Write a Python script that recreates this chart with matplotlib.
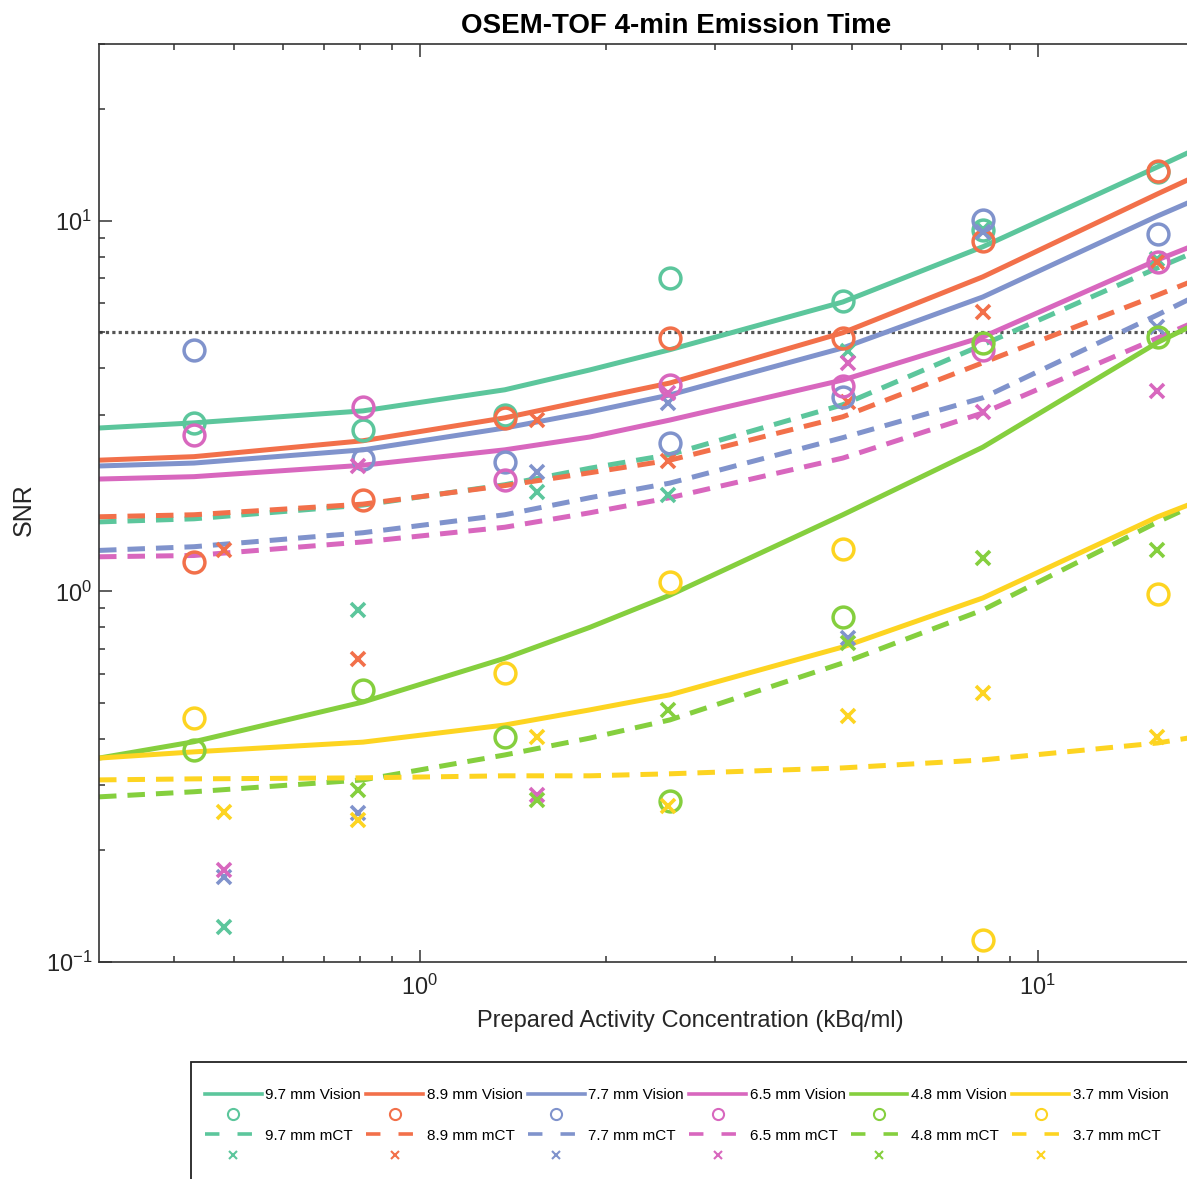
import numpy as np
import matplotlib
matplotlib.use('Agg')
import matplotlib.pyplot as plt
from matplotlib.lines import Line2D
from matplotlib.patches import Rectangle
from matplotlib.ticker import NullFormatter

plt.rcParams['font.family'] = ['Liberation Sans', 'DejaVu Sans']
plt.rcParams['mathtext.default'] = 'regular'
plt.rcParams['axes.unicode_minus'] = False

# lesion sizes and colours
sizes = ['9.7', '8.9', '7.7', '6.5', '4.8', '3.7']
colors = ['#5cc69c', '#f2704a', '#8093cc', '#d867be', '#85cf3e', '#fdd421']

# measured points (kBq/ml)
conc_vision = [0.431, 0.809, 1.372, 2.538, 4.836, 8.147, 15.64]
conc_mct = [0.482, 0.794, 1.546, 2.519, 4.927, 8.147, 15.58]

snr_vision_97 = [2.85, 2.73, 2.99, 7.02, 6.08, 9.46, 13.56]
snr_vision_89 = [1.20, 1.77, 2.94, 4.83, 4.83, 8.83, 13.65]
snr_vision_77 = [4.49, 2.28, 2.24, 2.52, 3.35, 10.06, 9.22]
snr_vision_65 = [2.65, 3.15, 2.00, 3.61, 3.59, 4.49, 7.75]
snr_vision_48 = [0.373, 0.542, 0.405, 0.272, 0.853, 4.69, 4.86]
snr_vision_37 = [0.456, np.nan, 0.603, 1.06, 1.30, 0.115, 0.985]

snr_mct_97 = [0.124, 0.891, 1.86, 1.82, 4.46, 9.5, 7.9]
snr_mct_89 = [1.29, 0.657, 2.90, 2.25, 3.25, 5.68, 7.75]
snr_mct_77 = [0.170, 0.252, 2.10, 3.23, 0.749, 9.34, 5.18]
snr_mct_65 = [0.177, 2.18, 0.282, 3.43, 4.14, 3.05, 3.48]
snr_mct_48 = [np.nan, 0.291, 0.274, 0.479, 0.726, 1.23, 1.29]
snr_mct_37 = [0.254, 0.242, 0.405, 0.264, 0.461, 0.532, 0.405]

fit_conc = [0.3024, 0.4308, 0.8088, 1.372, 1.884, 2.538, 4.836, 8.147, 15.64, 17.5]

fit_vision_97 = [2.76, 2.85, 3.07, 3.50, 3.96, 4.49, 6.04, 8.51, 13.99, 15.26]
fit_vision_89 = [2.26, 2.31, 2.55, 2.94, 3.29, 3.65, 4.99, 7.06, 11.83, 12.90]
fit_vision_77 = [2.18, 2.22, 2.41, 2.76, 3.05, 3.39, 4.54, 6.23, 10.31, 11.18]
fit_vision_65 = [2.01, 2.04, 2.19, 2.41, 2.61, 2.90, 3.72, 4.86, 7.85, 8.46]
fit_vision_48 = [0.355, 0.393, 0.503, 0.660, 0.800, 0.977, 1.61, 2.45, 4.70, 5.15]
fit_vision_37 = [0.355, 0.369, 0.392, 0.436, 0.479, 0.526, 0.708, 0.960, 1.59, 1.71]

fit_mct_97 = [1.54, 1.57, 1.71, 1.94, 2.15, 2.34, 3.19, 4.63, 7.47, 8.09]
fit_mct_89 = [1.59, 1.61, 1.72, 1.93, 2.09, 2.26, 2.96, 4.14, 6.31, 6.80]
fit_mct_77 = [1.29, 1.32, 1.44, 1.61, 1.79, 1.96, 2.60, 3.33, 5.58, 6.12]
fit_mct_65 = [1.24, 1.25, 1.36, 1.49, 1.63, 1.79, 2.29, 3.03, 4.83, 5.24]
fit_mct_48 = [0.279, 0.288, 0.310, 0.362, 0.402, 0.450, 0.641, 0.891, 1.54, 1.68]
fit_mct_37 = [0.310, 0.312, 0.314, 0.318, 0.318, 0.322, 0.334, 0.351, 0.390, 0.402]

snr_threshold = 5

snr_vision = [snr_vision_97, snr_vision_89, snr_vision_77, snr_vision_65, snr_vision_48, snr_vision_37]
snr_mct = [snr_mct_97, snr_mct_89, snr_mct_77, snr_mct_65, snr_mct_48, snr_mct_37]
fit_vision = [fit_vision_97, fit_vision_89, fit_vision_77, fit_vision_65, fit_vision_48, fit_vision_37]
fit_mct = [fit_mct_97, fit_mct_89, fit_mct_77, fit_mct_65, fit_mct_48, fit_mct_37]

W, H = 1187, 1179
fig = plt.figure(figsize=(W / 100, H / 100), dpi=100)
# axes run past the right edge of the picture, like the cropped original
ax = fig.add_axes([99 / W, 1 - 962 / H, (1253 - 99) / W, (962 - 44) / H])

ax.axhline(snr_threshold, color='#555555', lw=2.3, ls=(0, (1, 1)), zorder=1)

for i in range(6):
    c = colors[i]
    ax.plot(fit_conc, fit_vision[i], color=c, lw=3.6, solid_capstyle='butt',
            solid_joinstyle='round', zorder=2)
    ax.plot(fit_conc, fit_mct[i], color=c, lw=3.6, dashes=(3.5, 2.2), zorder=2)

for i in range(6):
    c = colors[i]
    ax.plot(conc_vision, snr_vision[i], ls='none', marker='o', ms=15, mfc='none',
            mec=c, mew=2.5, zorder=3)
    ax.plot(conc_mct, snr_mct[i], ls='none', marker='x', ms=10, mec=c, mew=2.6, zorder=3)

ax.set_xscale('log')
ax.set_yscale('log')
ax.set_xlim(0.3024, 22.3)
ax.set_ylim(0.1, 30)
ax.xaxis.set_minor_formatter(NullFormatter())
ax.yaxis.set_minor_formatter(NullFormatter())

ax.tick_params(which='both', direction='in', top=True, right=True, colors='#333333',
               labelcolor='#262626', width=1.1)
ax.tick_params(which='major', length=9, labelsize=17)
ax.tick_params(which='minor', length=4.5)
ax.tick_params(axis='x', which='major', pad=9)
ax.tick_params(axis='y', which='major', pad=5)
for s in ax.spines.values():
    s.set_color('#333333')
    s.set_linewidth(1.2)

ax.set_title('OSEM-TOF 4-min Emission Time', fontsize=20, fontweight='bold', pad=8)
ax.set_xlabel('Prepared Activity Concentration (kBq/ml)', fontsize=17, color='#262626')
ax.set_ylabel('SNR', fontsize=18, color='#262626')
ax.xaxis.set_label_coords((690 - 99) / 1154, -(1010 - 962) / 918)
ax.yaxis.set_label_coords(-(99 - 36) / 1154, (962 - 510) / 918)

# legend: one column per size -> line, circle, dashed, cross
handles = []
labels = []
for i in range(6):
    c = colors[i]
    handles.append(Line2D([], [], color=c, lw=2.6))
    labels.append(sizes[i] + ' mm Vision')
    handles.append(Line2D([], [], ls='none', marker='o', ms=8, mfc='none', mec=c, mew=1.5))
    labels.append('')
    handles.append(Line2D([], [], color=c, lw=2.6, dashes=(4, 5)))
    labels.append(sizes[i] + ' mm mCT')
    handles.append(Line2D([], [], ls='none', marker='x', ms=6, mec=c, mew=1.5))
    labels.append('')

fig.legend(handles, labels, ncol=6, loc='upper left',
           bbox_to_anchor=(205 / W, 1 - 1088 / H), frameon=False,
           borderpad=0, borderaxespad=0, fontsize=11, handlelength=3.7,
           handletextpad=0.25, columnspacing=0.35, labelspacing=0.42)
fig.patches.append(Rectangle((191 / W, -0.1), 1.0, 0.1 + 1 - 1062 / H, transform=fig.transFigure,
                             fill=False, ec='#222222', lw=1.3))

fig.savefig('out.png', dpi=100)
